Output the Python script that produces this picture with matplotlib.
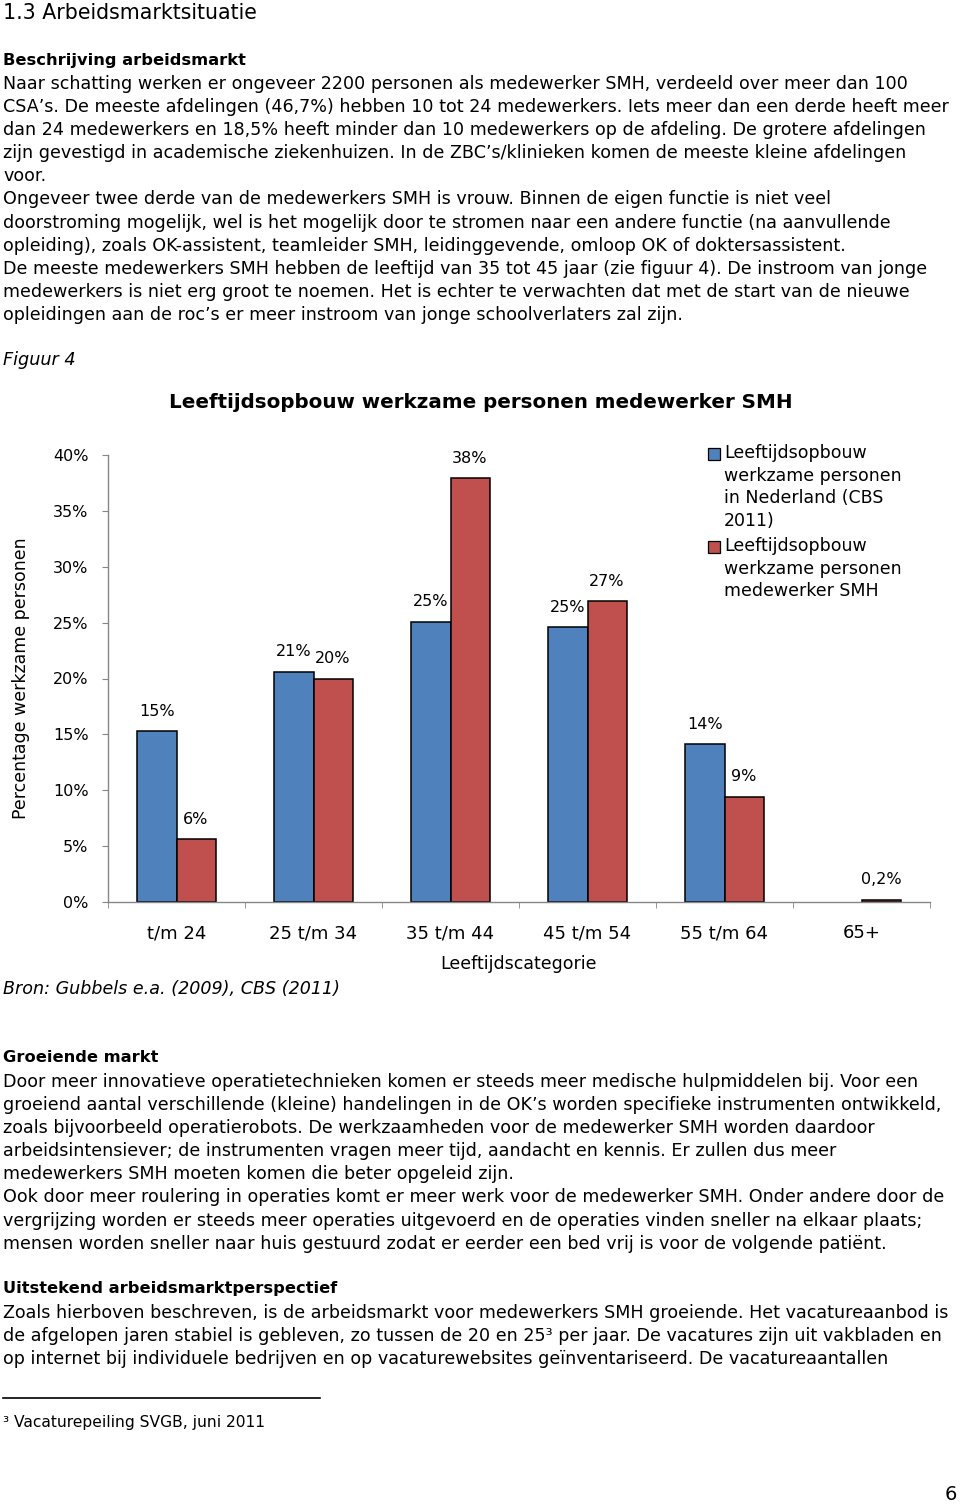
import matplotlib
matplotlib.use("Agg")
import matplotlib.pyplot as plt
import numpy as np
from matplotlib.patches import Rectangle

# ---- chart data ----
categories = ["t/m 24", "25 t/m 34", "35 t/m 44", "45 t/m 54", "55 t/m 64", "65+"]
cbs_2011 = [15.3, 20.6, 25.1, 24.6, 14.1, 0.0]
smh = [5.6, 20.0, 37.9, 26.9, 9.4, 0.2]
cbs_labels = ["15%", "21%", "25%", "25%", "14%", ""]
smh_labels = ["6%", "20%", "38%", "27%", "9%", "0,2%"]
yticks = [0, 5, 10, 15, 20, 25, 30, 35, 40]

legend_cbs = "Leeftijdsopbouw\nwerkzame personen\nin Nederland (CBS\n2011)"
legend_smh = "Leeftijdsopbouw\nwerkzame personen\nmedewerker SMH"

# ---- page text ----
intro_lines = [
    "Naar schatting werken er ongeveer 2200 personen als medewerker SMH, verdeeld over meer dan 100",
    "CSA\u2019s. De meeste afdelingen (46,7%) hebben 10 tot 24 medewerkers. Iets meer dan een derde heeft meer",
    "dan 24 medewerkers en 18,5% heeft minder dan 10 medewerkers op de afdeling. De grotere afdelingen",
    "zijn gevestigd in academische ziekenhuizen. In de ZBC\u2019s/klinieken komen de meeste kleine afdelingen",
    "voor.",
    "Ongeveer twee derde van de medewerkers SMH is vrouw. Binnen de eigen functie is niet veel",
    "doorstroming mogelijk, wel is het mogelijk door te stromen naar een andere functie (na aanvullende",
    "opleiding), zoals OK-assistent, teamleider SMH, leidinggevende, omloop OK of doktersassistent.",
    "De meeste medewerkers SMH hebben de leeftijd van 35 tot 45 jaar (zie figuur 4). De instroom van jonge",
    "medewerkers is niet erg groot te noemen. Het is echter te verwachten dat met de start van de nieuwe",
    "opleidingen aan de roc\u2019s er meer instroom van jonge schoolverlaters zal zijn.",
]
markt_lines = [
    "Door meer innovatieve operatietechnieken komen er steeds meer medische hulpmiddelen bij. Voor een",
    "groeiend aantal verschillende (kleine) handelingen in de OK\u2019s worden specifieke instrumenten ontwikkeld,",
    "zoals bijvoorbeeld operatierobots. De werkzaamheden voor de medewerker SMH worden daardoor",
    "arbeidsintensiever; de instrumenten vragen meer tijd, aandacht en kennis. Er zullen dus meer",
    "medewerkers SMH moeten komen die beter opgeleid zijn.",
    "Ook door meer roulering in operaties komt er meer werk voor de medewerker SMH. Onder andere door de",
    "vergrijzing worden er steeds meer operaties uitgevoerd en de operaties vinden sneller na elkaar plaats;",
    "mensen worden sneller naar huis gestuurd zodat er eerder een bed vrij is voor de volgende pati\u00ebnt.",
]
perspectief_lines = [
    "Zoals hierboven beschreven, is de arbeidsmarkt voor medewerkers SMH groeiende. Het vacatureaanbod is",
    "de afgelopen jaren stabiel is gebleven, zo tussen de 20 en 25\u00b3 per jaar. De vacatures zijn uit vakbladen en",
    "op internet bij individuele bedrijven en op vacaturewebsites ge\u00efnventariseerd. De vacatureaantallen",
]

W, H = 960, 1505
plt.rcParams['font.family'] = ['DejaVu Sans']
fig = plt.figure(figsize=(W / 100, H / 100), dpi=100)
fig.patch.set_facecolor('white')


def px(x, y):
    return x / W, 1 - y / H


BODY = 12.6
BOLD = 11.7
LINE = 23.1


def put(x, y, s, **kw):
    fx, fy = px(x, y)
    fig.text(fx, fy, s, va='center', ha=kw.pop('ha', 'left'), **kw)


put(3, 13, "1.3 Arbeidsmarktsituatie", fontsize=14.8)
put(3, 61, "Beschrijving arbeidsmarkt", fontsize=BOLD, fontweight='bold')
for i, s in enumerate(intro_lines):
    put(3, 84 + i * LINE, s, fontsize=BODY)
put(3, 360, "Figuur 4", fontsize=12.7, style='italic')

put(3, 1058, "Groeiende markt", fontsize=BOLD, fontweight='bold')
for i, s in enumerate(markt_lines):
    put(3, 1082 + i * LINE, s, fontsize=BODY)
put(3, 1289, "Uitstekend arbeidsmarktperspectief", fontsize=BOLD, fontweight='bold')
for i, s in enumerate(perspectief_lines):
    put(3, 1313 + i * LINE, s, fontsize=BODY)

# footnote rule and text
fig.add_artist(plt.Line2D([3 / W, 320 / W], [1 - 1398 / H, 1 - 1398 / H],
                          color='black', linewidth=1.2))
put(3, 1422, "\u00b3 Vacaturepeiling SVGB, juni 2011", fontsize=11.2)
put(957, 1495, "6", fontsize=14, ha='right')

# ---- chart ----
ax_left, ax_right, ax_bottom, ax_top = 108, 930, 902, 455
ax = fig.add_axes([ax_left / W, 1 - ax_bottom / H,
                   (ax_right - ax_left) / W, (ax_bottom - ax_top) / H])

x = np.arange(len(categories))
bw = 0.285
blue = '#4F81BD'
red = '#C0504D'
b1 = ax.bar(x - bw / 2, cbs_2011, bw, color=blue, edgecolor='black', linewidth=1.1)
b2 = ax.bar(x + bw / 2, smh, bw, color=red, edgecolor='black', linewidth=1.1)
# empty categories get no outline
for bar, v in zip(b1, cbs_2011):
    if v == 0:
        bar.set_linewidth(0)
ax.bar_label(b1, labels=cbs_labels, padding=9, fontsize=11.5)
ax.bar_label(b2, labels=smh_labels, padding=9, fontsize=11.5)

ax.set_xlim(-0.5, len(categories) - 0.5)
ax.set_ylim(0, 40)
ax.set_yticks(yticks)
ax.set_yticklabels([f"{v}%" for v in yticks], fontsize=11.5)
ax.set_xticks(x)
ax.set_xticklabels(categories, fontsize=13)
ax.set_xticks(np.arange(len(categories) + 1) - 0.5, minor=True)
ax.tick_params(axis='x', which='major', length=0, pad=16)
ax.tick_params(axis='x', which='minor', length=4, direction='out', color='#868686')
ax.tick_params(axis='y', length=4, direction='out', color='#868686', pad=10)

for side in ['top', 'right']:
    ax.spines[side].set_visible(False)
for side in ['left', 'bottom']:
    ax.spines[side].set_color('#868686')
    ax.spines[side].set_linewidth(1.0)

ax.set_ylabel("Percentage werkzame personen", fontsize=12.5)
ax.yaxis.set_label_coords((30 - ax_left) / (ax_right - ax_left), 0.5)
ax.set_xlabel("Leeftijdscategorie", fontsize=12.5)
ax.xaxis.set_label_coords(0.5, -(955 - ax_bottom) / (ax_bottom - ax_top))

put(481, 403, "Leeftijdsopbouw werkzame personen medewerker SMH",
    fontsize=14.3, fontweight='bold', ha='center')

# legend, drawn by hand so the box lines up with the first text line
for col, txt, y0 in [(blue, legend_cbs, 454), (red, legend_smh, 547)]:
    fig.add_artist(Rectangle((708 / W, 1 - (y0 + 6) / H), 12 / W, 12 / H,
                             facecolor=col, edgecolor='black', linewidth=0.9,
                             transform=fig.transFigure))
    fx, fy = px(724, y0 - 10)
    fig.text(fx, fy, txt, va='top', ha='left', fontsize=12.5, linespacing=1.33)

put(3, 989, "Bron: Gubbels e.a. (2009), CBS (2011)", fontsize=12.6, style='italic')

fig.savefig("out.png", dpi=100)
